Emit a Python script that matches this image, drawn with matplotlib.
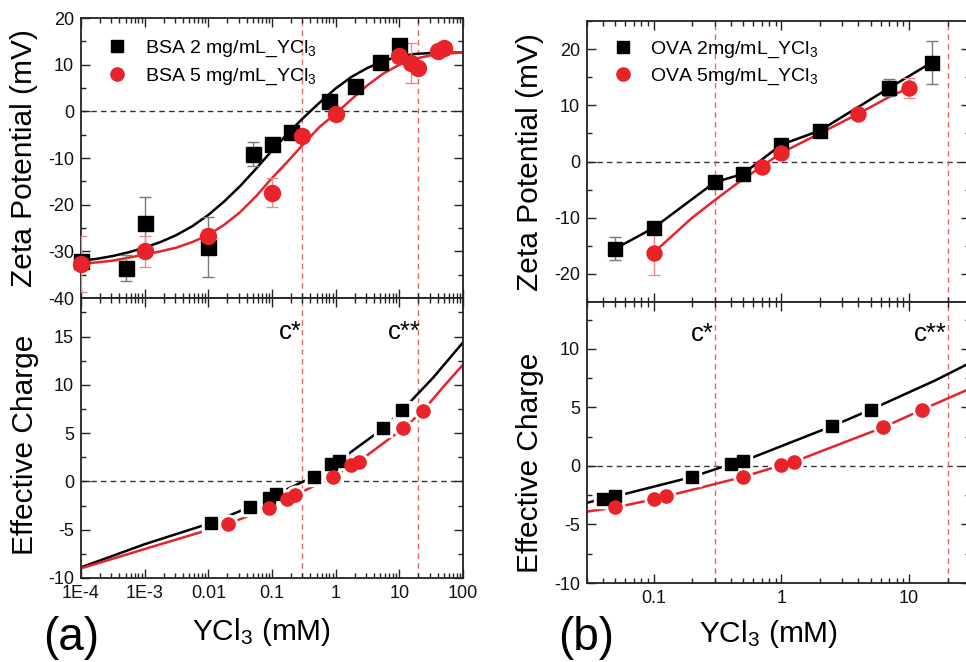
import matplotlib
matplotlib.use('Agg')
import numpy as np
import matplotlib.pyplot as plt
from matplotlib.ticker import (LogLocator, MultipleLocator, NullFormatter,
                               FixedLocator, FixedFormatter)
from matplotlib.lines import Line2D

plt.rcParams['font.family'] = ['Liberation Sans', 'DejaVu Sans']
plt.rcParams['mathtext.default'] = 'regular'
plt.rcParams['axes.unicode_minus'] = False

# ---------------- data: panel (a) BSA ----------------
bsa2_zeta_x = [1e-4, 5e-4, 1e-3, 0.01, 0.05, 0.1, 0.2, 0.8, 2, 5, 10]
bsa2_zeta_y = [-32.0, -33.5, -23.9, -29.1, -9.1, -7.1, -4.4, 2.2, 5.4, 10.5, 14.2]
bsa2_zeta_err = [1.0, 2.8, 5.6, 6.5, 2.6, 1.0, 1.0, 1.0, 0.8, 0.8, 1.4]

bsa5_zeta_x = [1e-4, 1e-3, 0.01, 0.1, 0.3, 1, 10, 15, 20, 40, 50]
bsa5_zeta_y = [-32.8, -30.0, -26.8, -17.4, -5.3, -0.5, 11.8, 10.4, 9.2, 13.0, 13.6]
bsa5_zeta_err = [6.0, 3.3, 1.5, 3.2, 1.0, 1.0, 1.2, 4.3, 1.0, 0.8, 0.8]

# fitted curves (log10 of concentration, zeta)
bsa2_fit_logx = [-4.0, -3.75, -3.5, -3.25, -3.0, -2.75, -2.5, -2.25, -2.0, -1.75, -1.5,
                 -1.25, -1.0, -0.75, -0.5, -0.25, 0.0, 0.25, 0.5, 0.75, 1.0, 1.25, 1.5, 2.0]
bsa2_fit_y = [-32.0, -31.6, -31.0, -30.2, -29.2, -28.0, -26.5, -24.6, -22.2, -19.3, -16.0,
              -12.3, -8.4, -4.7, -1.3, 1.9, 4.9, 7.4, 9.3, 10.8, 11.8, 12.3, 12.5, 12.6]
bsa5_fit_logx = [-4.0, -3.5, -3.0, -2.75, -2.5, -2.25, -2.0, -1.75, -1.5, -1.25, -1.0,
                 -0.75, -0.5, -0.25, 0.0, 0.25, 0.5, 0.75, 1.0, 1.25, 1.5, 1.75, 2.0]
bsa5_fit_y = [-32.7, -32.0, -30.7, -30.0, -29.2, -28.0, -26.5, -24.3, -21.6, -18.2, -14.3,
              -10.7, -6.9, -3.3, -0.5, 2.6, 5.6, 8.1, 10.0, 11.3, 12.0, 12.4, 12.6]

bsa2_q_x = [0.011, 0.045, 0.09, 0.115, 0.45, 0.84, 1.13, 5.6, 11.2]
bsa2_q_y = [-4.3, -2.65, -1.67, -1.33, 0.48, 1.8, 2.15, 5.5, 7.4]
bsa5_q_x = [0.0205, 0.091, 0.17, 0.23, 0.91, 1.77, 2.3, 11.5, 23.5]
bsa5_q_y = [-4.4, -2.7, -1.85, -1.43, 0.48, 1.7, 2.05, 5.5, 7.3]

bsa2_qline_x = [1e-4, 1e-3, 0.011, 0.045, 0.09, 0.115, 0.45, 0.84, 1.13, 5.6, 11.2, 34, 100]
bsa2_qline_y = [-8.9, -6.5, -4.3, -2.65, -1.67, -1.33, 0.48, 1.8, 2.15, 5.5, 7.4, 10.75, 14.4]
bsa5_qline_x = [1e-4, 1e-3, 0.0205, 0.091, 0.17, 0.23, 0.91, 1.77, 2.3, 11.5, 23.5, 49, 100]
bsa5_qline_y = [-9.0, -7.0, -4.4, -2.7, -1.85, -1.43, 0.48, 1.7, 2.05, 5.5, 7.3, 9.8, 12.1]

# ---------------- data: panel (b) OVA ----------------
ova2_zeta_x = [0.05, 0.1, 0.3, 0.5, 1.0, 2.0, 7.0, 15]
ova2_zeta_y = [-15.5, -11.8, -3.7, -2.2, 3.0, 5.5, 13.1, 17.6]
ova2_zeta_err = [2.1, 0.8, 0.8, 0.8, 0.8, 0.8, 1.5, 3.8]

ova5_zeta_x = [0.1, 0.7, 1.0, 4.0, 10.0]
ova5_zeta_y = [-16.2, -0.9, 1.55, 8.5, 13.1]
ova5_zeta_err = [4.0, 0.8, 0.8, 0.8, 1.8]

ova5_fit_x = [0.1, 0.2, 0.3, 0.45, 0.7, 1.0, 2.0, 4.0, 7.0, 10.0]
ova5_fit_y = [-16.2, -10.0, -6.9, -3.9, -0.9, 1.55, 5.0, 8.5, 11.5, 13.1]

ova2_q_x = [0.04, 0.05, 0.2, 0.4, 0.5, 2.5, 5]
ova2_q_y = [-2.8, -2.6, -0.94, 0.15, 0.4, 3.4, 4.8]
ova5_q_x = [0.05, 0.1, 0.125, 0.5, 1.0, 1.25, 6.3, 12.6]
ova5_q_y = [-3.55, -2.85, -2.6, -0.94, 0.06, 0.35, 3.3, 4.8]

ova2_qline_x = [0.03, 0.04, 0.05, 0.2, 0.4, 0.5, 2.5, 5, 16, 30]
ova2_qline_y = [-3.15, -2.8, -2.6, -0.94, 0.15, 0.4, 3.4, 4.8, 7.3, 8.8]
ova5_qline_x = [0.03, 0.05, 0.1, 0.125, 0.5, 1.0, 1.25, 6.3, 12.6, 30]
ova5_qline_y = [-3.9, -3.55, -2.85, -2.6, -0.94, 0.06, 0.35, 3.3, 4.8, 6.6]

c_star = 0.3
c_star2 = 20

xticks_a = [1e-4, 1e-3, 0.01, 0.1, 1, 10, 100]
xticklabels_a = ['1E-4', '1E-3', '0.01', '0.1', '1', '10', '100']
xticks_b = [0.1, 1, 10]
xticklabels_b = ['0.1', '1', '10']

labels_a = ['BSA 2 mg/mL_YCl$_3$', 'BSA 5 mg/mL_YCl$_3$']
labels_b = ['OVA 2mg/mL_YCl$_3$', 'OVA 5mg/mL_YCl$_3$']

# ---------------- styling ----------------
BLACK = '#000000'
RED = '#e8232a'
EBLACK = '#7a7a7a'
ERED = '#f08a8a'
VLINE = '#e36a6a'
TICK_FS = 13
LABEL_FS = 21.5

W, H = 966, 662
fig = plt.figure(figsize=(W / 100, H / 100), dpi=100)


def add_ax(l, t, r, b):
    return fig.add_axes([l / W, 1 - b / H, (r - l) / W, (b - t) / H])


def style(ax, xlim, ylim, ymaj, ymin, xticks, xlabels, show_x):
    ax.set_xscale('log')
    ax.set_xlim(*xlim)
    ax.set_ylim(*ylim)
    ax.xaxis.set_major_locator(FixedLocator(xticks))
    ax.xaxis.set_minor_locator(LogLocator(base=10, subs=range(2, 10), numticks=50))
    ax.xaxis.set_minor_formatter(NullFormatter())
    if show_x:
        ax.xaxis.set_major_formatter(FixedFormatter(xlabels))
    else:
        ax.xaxis.set_major_formatter(NullFormatter())
    ax.yaxis.set_major_locator(MultipleLocator(ymaj))
    ax.yaxis.set_minor_locator(MultipleLocator(ymin))
    ax.tick_params(which='both', direction='in', top=True, right=True,
                   labelsize=TICK_FS, width=1.0, colors='#222222', labelcolor='#111111')
    ax.tick_params(which='major', length=6.5, pad=5)
    ax.tick_params(which='minor', length=3.5)
    for s in ax.spines.values():
        s.set_linewidth(1.3)
        s.set_color('#222222')
    ax.axhline(0, color='#333333', lw=1.0, ls=(0, (4, 3)), zorder=1)
    ax.axvline(c_star, color=VLINE, lw=1.0, ls=(0, (4, 3)), zorder=1)
    ax.axvline(c_star2, color=VLINE, lw=1.0, ls=(0, (4, 3)), zorder=1)


legend_kw = dict(loc='upper left', frameon=False, fontsize=14, handlelength=1.0,
                 handletextpad=0.9, labelspacing=0.38, borderpad=0, borderaxespad=0)

# ---- panel (a) top ----
ax1 = add_ax(81, 18, 463, 298)
style(ax1, (1e-4, 100), (-40, 20), 10, 5, xticks_a, xticklabels_a, False)
ax1.plot(10 ** np.array(bsa2_fit_logx), bsa2_fit_y, color=BLACK, lw=1.8, zorder=2)
ax1.plot(10 ** np.array(bsa5_fit_logx), bsa5_fit_y, color=RED, lw=1.8, zorder=2)
ax1.errorbar(bsa2_zeta_x, bsa2_zeta_y, yerr=bsa2_zeta_err, fmt='none', ecolor=EBLACK,
             elinewidth=1.0, capsize=4, capthick=1.0, zorder=3)
ax1.errorbar(bsa5_zeta_x, bsa5_zeta_y, yerr=bsa5_zeta_err, fmt='none', ecolor=ERED,
             elinewidth=1.0, capsize=4, capthick=1.0, zorder=3)
ax1.plot(bsa2_zeta_x, bsa2_zeta_y, ls='none', marker='s', ms=10.8, color=BLACK, zorder=4, clip_on=False)
ax1.plot(bsa5_zeta_x, bsa5_zeta_y, ls='none', marker='o', ms=11.5, color=RED, zorder=5, clip_on=False)
h = [Line2D([], [], ls='none', marker='s', ms=9, color=BLACK),
     Line2D([], [], ls='none', marker='o', ms=9.5, color=RED)]
ax1.legend(h, labels_a, bbox_to_anchor=(0.07, 0.925), **legend_kw)

# ---- panel (a) bottom ----
ax2 = add_ax(81, 298, 463, 578)
style(ax2, (1e-4, 100), (-10, 19), 5, 2.5, xticks_a, xticklabels_a, True)
ax2.plot(bsa2_qline_x, bsa2_qline_y, color=BLACK, lw=1.8, zorder=2)
ax2.plot(bsa5_qline_x, bsa5_qline_y, color=RED, lw=1.8, zorder=2)
ax2.plot(bsa2_q_x, bsa2_q_y, ls='none', marker='s', ms=13, color='white', zorder=3)
ax2.plot(bsa5_q_x, bsa5_q_y, ls='none', marker='o', ms=13.5, color='white', zorder=3)
ax2.plot(bsa2_q_x, bsa2_q_y, ls='none', marker='s', ms=9, color=BLACK, zorder=4)
ax2.plot(bsa5_q_x, bsa5_q_y, ls='none', marker='o', ms=9.5, color=RED, zorder=5)
ax2.text(c_star * 0.97, 14.75, 'c*', fontsize=18.5, ha='right', va='baseline')
ax2.text(c_star2 * 1.1, 14.75, 'c**', fontsize=18.5, ha='right', va='baseline')

# ---- panel (b) top ----
ax3 = add_ax(587, 21, 970, 302)
style(ax3, (0.03, 30), (-25, 25), 10, 5, xticks_b, xticklabels_b, False)
ax3.plot(ova2_zeta_x, ova2_zeta_y, color=BLACK, lw=1.8, zorder=2)
ax3.plot(ova5_fit_x, ova5_fit_y, color=RED, lw=1.8, zorder=2)
ax3.errorbar(ova2_zeta_x, ova2_zeta_y, yerr=ova2_zeta_err, fmt='none', ecolor=EBLACK,
             elinewidth=1.0, capsize=4, capthick=1.0, zorder=3)
ax3.errorbar(ova5_zeta_x, ova5_zeta_y, yerr=ova5_zeta_err, fmt='none', ecolor=ERED,
             elinewidth=1.0, capsize=4, capthick=1.0, zorder=3)
ax3.plot(ova2_zeta_x, ova2_zeta_y, ls='none', marker='s', ms=9.8, color=BLACK, zorder=4)
ax3.plot(ova5_zeta_x, ova5_zeta_y, ls='none', marker='o', ms=10.8, color=RED, zorder=5)
h = [Line2D([], [], ls='none', marker='s', ms=9, color=BLACK),
     Line2D([], [], ls='none', marker='o', ms=9.5, color=RED)]
ax3.legend(h, labels_b, bbox_to_anchor=(0.068, 0.935), **legend_kw)

# ---- panel (b) bottom ----
ax4 = add_ax(587, 302, 970, 583)
style(ax4, (0.03, 30), (-10, 14), 5, 2.5, xticks_b, xticklabels_b, True)
ax4.plot(ova2_qline_x, ova2_qline_y, color=BLACK, lw=1.8, zorder=2)
ax4.plot(ova5_qline_x, ova5_qline_y, color=RED, lw=1.8, zorder=2)
ax4.plot(ova2_q_x, ova2_q_y, ls='none', marker='s', ms=13, color='white', zorder=3)
ax4.plot(ova5_q_x, ova5_q_y, ls='none', marker='o', ms=13.5, color='white', zorder=3)
ax4.plot(ova2_q_x, ova2_q_y, ls='none', marker='s', ms=9, color=BLACK, zorder=4)
ax4.plot(ova5_q_x, ova5_q_y, ls='none', marker='o', ms=9.5, color=RED, zorder=5)
ax4.text(c_star * 0.99, 10.7, 'c*', fontsize=18.5, ha='right', va='baseline')
ax4.text(c_star2 * 0.99, 10.7, 'c**', fontsize=18.5, ha='right', va='baseline')

# ---- axis labels ----
fig.text(24 / W, 1 - 158 / H, 'Zeta Potential (mV)', rotation=90, ha='center', va='center',
         fontsize=LABEL_FS)
fig.text(25 / W, 1 - 445 / H, 'Effective Charge', rotation=90, ha='center', va='center',
         fontsize=LABEL_FS)
fig.text(530 / W, 1 - 162 / H, 'Zeta Potential (mV)', rotation=90, ha='center', va='center',
         fontsize=LABEL_FS)
fig.text(530 / W, 1 - 463 / H, 'Effective Charge', rotation=90, ha='center', va='center',
         fontsize=LABEL_FS)
fig.text(261 / W, 1 - 640 / H, 'YCl$_3$ (mM)', ha='center', va='baseline', fontsize=LABEL_FS)
fig.text(768 / W, 1 - 642 / H, 'YCl$_3$ (mM)', ha='center', va='baseline', fontsize=LABEL_FS)
fig.text(43 / W, 1 - 650 / H, '(a)', ha='left', va='baseline', fontsize=33)
fig.text(558 / W, 1 - 650 / H, '(b)', ha='left', va='baseline', fontsize=33)

fig.savefig('out.png', dpi=100)
